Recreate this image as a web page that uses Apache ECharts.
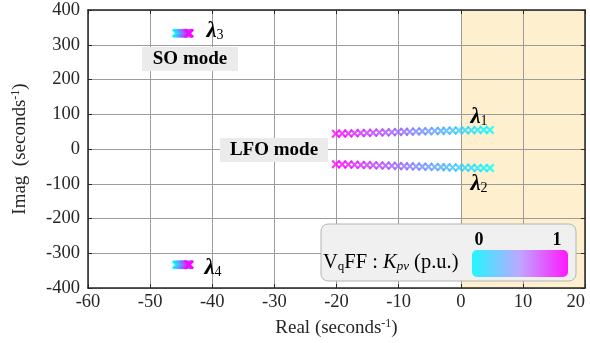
<!DOCTYPE html>
<html>
<head>
<meta charset="utf-8">
<script src="https://cdn.jsdelivr.net/npm/echarts@6/dist/echarts.min.js"></script>
<style>html,body{margin:0;padding:0;background:#fff}#c{width:590px;height:343px}</style>
</head>
<body>
<div id="c"></div>
<script>
// ---- data ----
const kpv = [0,0.04,0.08,0.12,0.16,0.2,0.24,0.28,0.32,0.36,0.4,0.44,0.48,0.52,0.56,0.6,0.64,0.68,0.72,0.76,0.8,0.84,0.88,0.92,0.96,1];
const lfoReal = [4.7,3.7,2.7,1.7,0.7,-0.3,-1.3,-2.3,-3.2,-4.2,-5.2,-6.2,-7.2,-8.2,-9.1,-10.1,-11.1,-12.1,-13.1,-14.1,-15.1,-16.1,-17.1,-18.1,-19.1,-20.1];
const lfoImagPos = [55,55,54.6,54.2,53.8,53.4,53,52.6,52.1,51.7,51.2,50.8,50.3,49.8,49.3,48.8,48.3,47.8,47.3,46.8,46.3,45.8,45.3,44.8,44.3,43.8];
const soReal = [-45.8,-45.7,-45.6,-45.5,-45.4,-45.3,-45.2,-45.1,-45.0,-44.9,-44.8,-44.7,-44.6,-44.5,-44.4,-44.3,-44.2,-44.1,-44.0,-43.95,-43.9,-43.85,-43.8,-43.75,-43.7,-43.65];
const soImagPos = [333,333,333,333,333,333,333,333,333,333,333,333,333,333,333,333,333,333,333,333,333,333,333,333,333,333];
const xTicks = [-60,-50,-40,-30,-20,-10,0,10,20];
const yTicks = [-400,-300,-200,-100,0,100,200,300,400];
const unstableRange = [0,20];

const FONT = 'Liberation Serif';
const crossPath = 'path://M0,1.7 L1.7,0 L5,3.3 L8.3,0 L10,1.7 L6.7,5 L10,8.3 L8.3,10 L5,6.7 L1.7,10 L0,8.3 L3.3,5 Z';

function pts(re, im, sign){ return re.map((r,i)=>[r, sign*im[i], kpv[i]]); }

const chart = echarts.init(document.getElementById('c'), null, {renderer:'canvas'});
const axisCol = '#262626';
const gridCol = '#9c9c9c';
const scatterBase = {type:'scatter', symbol: crossPath, symbolSize: 9, xAxisIndex:0, yAxisIndex:0, z:5};
const supRich = {a:{fontFamily:FONT, fontSize:19, color:axisCol}, s:{fontFamily:FONT, fontSize:12, color:axisCol, verticalAlign:'top', padding:[0,0,9,0]}};
const tickRich = {t:{fontFamily:FONT, fontSize:18.5, color:axisCol}};

chart.setOption({
  animation:false,
  textStyle:{fontFamily:FONT},
  grid:{left:88, right:5, top:10, bottom:55, outerBoundsMode:'none', containLabel:false},
  xAxis:[{
    type:'value', min:xTicks[0], max:xTicks[xTicks.length-1], interval:10, z:3,
    axisLine:{show:true, onZero:false, lineStyle:{color:axisCol, width:1.5}},
    axisTick:{show:true, inside:true, length:4, lineStyle:{color:axisCol}},
    axisLabel:{fontFamily:FONT, fontSize:18.5, color:axisCol, margin:5, alignMaxLabel:'right', formatter:v=>'{t|'+v+'}', rich:tickRich},
    splitLine:{show:true, lineStyle:{color:gridCol, width:1}},
    name:'{a|Real (seconds}{s|-1}{a|)}', nameLocation:'middle', nameGap:30,
    nameTextStyle:{fontFamily:FONT, rich:supRich}
  },{
    type:'value', position:'top', min:xTicks[0], max:xTicks[xTicks.length-1], interval:10, z:3,
    axisLine:{show:true, onZero:false, lineStyle:{color:axisCol, width:1.5}},
    axisTick:{show:true, inside:true, length:4, lineStyle:{color:axisCol}},
    axisLabel:{show:false}, splitLine:{show:false}
  }],
  yAxis:[{
    type:'value', min:yTicks[0], max:yTicks[yTicks.length-1], interval:100, z:3,
    axisLine:{show:true, onZero:false, lineStyle:{color:axisCol, width:1.5}},
    axisTick:{show:true, inside:true, length:4, lineStyle:{color:axisCol}},
    axisLabel:{fontFamily:FONT, fontSize:18.5, color:axisCol, margin:8, formatter:v=>'{t|'+v+'}', rich:tickRich},
    splitLine:{show:true, lineStyle:{color:gridCol, width:1}},
    name:'{a|Imag  (seconds}{s|-1}{a|)}', nameLocation:'middle', nameGap:57, nameRotate:90,
    nameTextStyle:{fontFamily:FONT, rich:supRich}
  },{
    type:'value', position:'right', min:yTicks[0], max:yTicks[yTicks.length-1], interval:100, z:3,
    axisLine:{show:true, onZero:false, lineStyle:{color:axisCol, width:1.5}},
    axisTick:{show:true, inside:true, length:4, lineStyle:{color:axisCol}},
    axisLabel:{show:false}, splitLine:{show:false}
  }],
  visualMap:{show:false, type:'continuous', min:0, max:1, dimension:2, seriesIndex:[1,2,3,4], inRange:{color:['#00ffff','#ff00ff']}},
  series:[
    {type:'line', data:[], xAxisIndex:0, yAxisIndex:0, z:0, zlevel:0,
     markArea:{silent:true, z:0, itemStyle:{color:'#fef0cf'}, data:[[{xAxis:unstableRange[0]},{xAxis:unstableRange[1]}]]}},
    Object.assign({}, scatterBase, {name:'lambda1', data: pts(lfoReal, lfoImagPos, 1)}),
    Object.assign({}, scatterBase, {name:'lambda2', data: pts(lfoReal, lfoImagPos, -1)}),
    Object.assign({}, scatterBase, {name:'lambda3', data: pts(soReal, soImagPos, 1)}),
    Object.assign({}, scatterBase, {name:'lambda4', data: pts(soReal, soImagPos, -1)})
  ]
});

function lam(sub, x, y){
  return {type:'text', x:x, y:y, z:50, style:{
    text:'{l|λ}{s|'+sub+'}', rich:{
      l:{fontFamily:FONT, fontStyle:'italic', fontWeight:'bold', fontSize:23, fill:'#000'},
      s:{fontFamily:FONT, fontSize:14, fill:'#000', verticalAlign:'bottom', padding:[7,0,0,0]}
    }, align:'center', verticalAlign:'middle'}};
}
function modeRect(x0, y0, w, h){
  return {type:'rect', z:50, shape:{x:x0, y:y0, width:w, height:h}, style:{fill:'#ebebeb'}};
}
function modeText(txt, x, y){
  return {type:'text', z:51, x:x, y:y, style:{text:'{m|'+txt+'}', rich:{m:{fontFamily:FONT, fontWeight:'bold', fontSize:19, fill:'#000'}}, align:'center', verticalAlign:'middle'}};
}

chart.setOption({graphic:[
  lam('1', 479, 117),
  lam('2', 479, 184),
  lam('3', 215, 31),
  lam('4', 213, 268),
  modeRect(142, 47, 96, 24), modeText('SO mode', 190, 59),
  modeRect(220, 138, 108, 24), modeText('LFO mode', 274, 150),
  {type:'rect', z:60, shape:{x:321, y:224, width:255, height:57, r:7}, style:{fill:'#f0f0f0', stroke:'#b4b4b4', lineWidth:1}},
  {type:'rect', z:61, shape:{x:472, y:250, width:96, height:27, r:5}, style:{fill:new echarts.graphic.LinearGradient(0,0,1,0,[{offset:0,color:'#22f6ff'},{offset:0.5,color:'#bfa6ff'},{offset:1,color:'#ff18ff'}])}},
  {type:'text', z:62, x:479, y:240, style:{text:'0', font:'bold 18px "Liberation Serif"', fill:'#000', align:'center', verticalAlign:'middle'}},
  {type:'text', z:62, x:557, y:240, style:{text:'1', font:'bold 18px "Liberation Serif"', fill:'#000', align:'center', verticalAlign:'middle'}},
  {type:'text', z:62, x:323, y:263, style:{
    text:'{a|V}{b|q}{a|FF : }{i|K}{j|pv}{a| (p.u.)}', align:'left', verticalAlign:'middle',
    rich:{
      a:{fontFamily:FONT, fontSize:20.5, fill:'#000'},
      b:{fontFamily:FONT, fontSize:13, fill:'#000', verticalAlign:'bottom', padding:[8,0,0,0]},
      i:{fontFamily:FONT, fontStyle:'italic', fontSize:20.5, fill:'#000'},
      j:{fontFamily:FONT, fontStyle:'italic', fontSize:13, fill:'#000', verticalAlign:'bottom', padding:[8,0,0,0]}
    }}}
]});
</script>
</body>
</html>
